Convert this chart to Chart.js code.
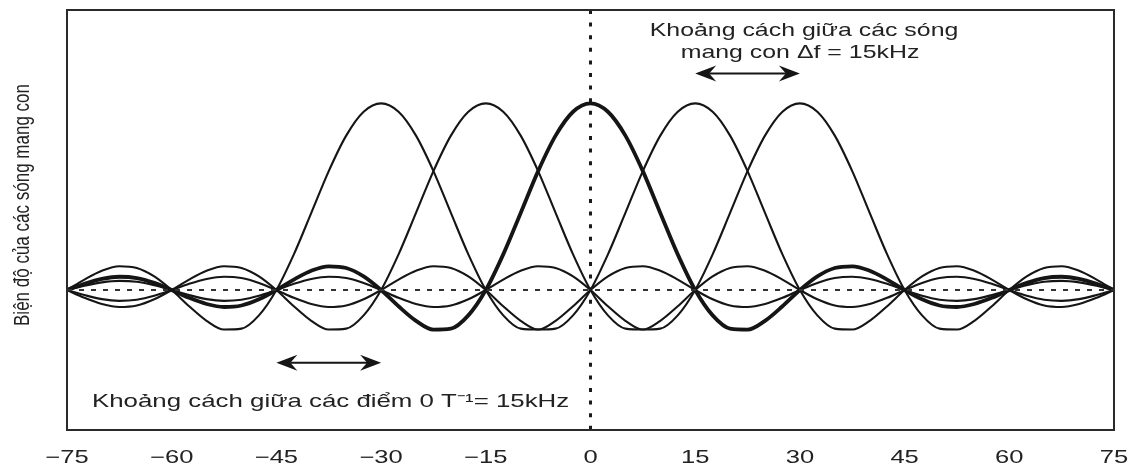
<!DOCTYPE html>
<html>
<head>
<meta charset="utf-8">
<script src="https://cdn.jsdelivr.net/npm/chart.js@4.4.1/dist/chart.umd.min.js"></script>
<style>
  html, body { margin: 0; padding: 0; background: #ffffff; }
  canvas { display: block; }
</style>
</head>
<body>
<canvas id="c" width="1141" height="470"></canvas>
<script>
// ---- data ----
const freqs = [-75,-72.5,-70,-67.5,-65,-62.5,-60,-57.5,-55,-52.5,-50,-47.5,-45,-42.5,-40,-37.5,-35,-32.5,
  -30,-27.5,-25,-22.5,-20,-17.5,-15,-12.5,-10,-7.5,-5,-2.5,0,2.5,5,7.5,10,12.5,15,17.5,20,22.5,25,27.5,
  30,32.5,35,37.5,40,42.5,45,47.5,50,52.5,55,57.5,60,62.5,65,67.5,70,72.5,75];

const tickLabels = ['\u221275','\u221260','\u221245','\u221230','\u221215','0','15','30','45','60','75'];

// sub-carrier centred at -30
const subM30 = [
  0,0.056,0.103,0.127,0.118,0.073, 0,-0.087,-0.165,-0.212,-0.207,-0.136, 0,0.191,0.413,0.637,0.827,0.955,
  1,
  0.955,0.827,0.637,0.413,0.191,0, -0.136,-0.207,-0.212,-0.165,-0.087,0, 0.073,0.118,0.127,0.103,0.056,0,
  -0.050,-0.083,-0.091,-0.075,-0.042,0, 0.038,0.064,0.071,0.059,0.033,0, -0.031,-0.052,-0.058,-0.049,-0.027,0,
  0.026,0.044,0.049,0.041,0.023,0];
// sub-carrier centred at -15
const subM15 = [
  0,-0.042,-0.075,-0.091,-0.083,-0.050, 0,0.056,0.103,0.127,0.118,0.073, 0,-0.087,-0.165,-0.212,-0.207,-0.136,
  0,0.191,0.413,0.637,0.827,0.955,
  1,
  0.955,0.827,0.637,0.413,0.191,0, -0.136,-0.207,-0.212,-0.165,-0.087,0, 0.073,0.118,0.127,0.103,0.056,0,
  -0.050,-0.083,-0.091,-0.075,-0.042,0, 0.038,0.064,0.071,0.059,0.033,0, -0.031,-0.052,-0.058,-0.049,-0.027,0];
// sub-carrier centred at 0 (bold)
const sub0 = [
  0,0.033,0.059,0.071,0.064,0.038, 0,-0.042,-0.075,-0.091,-0.083,-0.050, 0,0.056,0.103,0.127,0.118,0.073,
  0,-0.087,-0.165,-0.212,-0.207,-0.136, 0,0.191,0.413,0.637,0.827,0.955,
  1,
  0.955,0.827,0.637,0.413,0.191,0, -0.136,-0.207,-0.212,-0.165,-0.087,0, 0.073,0.118,0.127,0.103,0.056,0,
  -0.050,-0.083,-0.091,-0.075,-0.042,0, 0.038,0.064,0.071,0.059,0.033,0];
// sub-carrier centred at 15
const subP15 = [
  0,-0.027,-0.049,-0.058,-0.052,-0.031, 0,0.033,0.059,0.071,0.064,0.038, 0,-0.042,-0.075,-0.091,-0.083,-0.050,
  0,0.056,0.103,0.127,0.118,0.073, 0,-0.087,-0.165,-0.212,-0.207,-0.136, 0,0.191,0.413,0.637,0.827,0.955,
  1,
  0.955,0.827,0.637,0.413,0.191,0, -0.136,-0.207,-0.212,-0.165,-0.087,0, 0.073,0.118,0.127,0.103,0.056,0,
  -0.050,-0.083,-0.091,-0.075,-0.042,0];
// sub-carrier centred at 30
const subP30 = [
  0,0.023,0.041,0.049,0.044,0.026, 0,-0.027,-0.049,-0.058,-0.052,-0.031, 0,0.033,0.059,0.071,0.064,0.038,
  0,-0.042,-0.075,-0.091,-0.083,-0.050, 0,0.056,0.103,0.127,0.118,0.073, 0,-0.087,-0.165,-0.212,-0.207,-0.136,
  0,0.191,0.413,0.637,0.827,0.955,
  1,
  0.955,0.827,0.637,0.413,0.191,0, -0.136,-0.207,-0.212,-0.165,-0.087,0, 0.073,0.118,0.127,0.103,0.056,0];

const yTitle = 'Bi\u1ec7n \u0111\u1ed9 c\u1ee7a c\u00e1c s\u00f3ng mang con';
const topText1 = 'Kho\u1ea3ng c\u00e1ch gi\u1eefa c\u00e1c s\u00f3ng';
const topText2 = 'mang con \u0394f = 15kHz';
const bottomText = 'Kho\u1ea3ng c\u00e1ch gi\u1eefa c\u00e1c \u0111i\u1ec3m 0 T\u207b\u00b9= 15kHz';

// ---- drawing ----
const canvas = document.getElementById('c');
const ctx = canvas.getContext('2d');
const nativeFill = ctx.fillText.bind(ctx);
let textStretch = 1.42;   // the reference picture is stretched horizontally
ctx.fillText = function (text, x, y, maxWidth) {
  this.save();
  this.translate(x, y);
  this.scale(textStretch, 1);
  if (maxWidth === undefined || maxWidth === null) nativeFill(text, 0, 0);
  else nativeFill(text, 0, 0, maxWidth / textStretch);
  this.restore();
};

const toPts = arr => arr.map((v, i) => ({ x: freqs[i], y: v }));
const INK = '#151515';

function lineDs(arr, w, order) {
  return {
    data: toPts(arr), borderColor: INK, borderWidth: w, pointRadius: 0,
    fill: false, cubicInterpolationMode: 'monotone', order: order
  };
}

function arrow(c, x0, x1, y) {
  const L = 21, H = 8, N = 14;
  c.save();
  c.strokeStyle = INK; c.fillStyle = INK; c.lineWidth = 2;
  c.beginPath(); c.moveTo(x0 + N, y); c.lineTo(x1 - N, y); c.stroke();
  c.beginPath();
  c.moveTo(x0, y); c.lineTo(x0 + L, y - H); c.lineTo(x0 + N, y); c.lineTo(x0 + L, y + H); c.closePath(); c.fill();
  c.beginPath();
  c.moveTo(x1, y); c.lineTo(x1 - L, y - H); c.lineTo(x1 - N, y); c.lineTo(x1 - L, y + H); c.closePath(); c.fill();
  c.restore();
}

const decor = {
  id: 'decor',
  afterDatasetsDraw(chart) {
    const c = chart.ctx, a = chart.chartArea;
    const xs = chart.scales.x, ys = chart.scales.y;
    const y0 = ys.getPixelForValue(0), x0 = xs.getPixelForValue(0);
    c.save();
    c.strokeStyle = '#333'; c.lineWidth = 2; c.setLineDash([5, 7]);
    c.beginPath(); c.moveTo(a.left, y0); c.lineTo(a.right, y0); c.stroke();
    c.strokeStyle = '#1a1a1a'; c.lineWidth = 3; c.setLineDash([4, 8.6]);
    c.beginPath(); c.moveTo(x0, a.top); c.lineTo(x0, a.bottom); c.stroke();
    c.restore();
  },
  afterDraw(chart) {
    const c = chart.ctx, a = chart.chartArea;
    const xs = chart.scales.x, ys = chart.scales.y;
    c.save();
    c.strokeStyle = '#2a2a2a'; c.lineWidth = 2;
    c.strokeRect(a.left, a.top, a.right - a.left, a.bottom - a.top);
    // arrows
    arrow(c, xs.getPixelForValue(15), xs.getPixelForValue(30), ys.getPixelForValue(1.16));
    arrow(c, xs.getPixelForValue(-45), xs.getPixelForValue(-30), ys.getPixelForValue(-0.39));
    // annotation texts
    c.fillStyle = '#222';
    c.font = '19px "Liberation Sans", Arial, sans-serif';
    c.textBaseline = 'alphabetic';
    textStretch = 1.31;
    c.textAlign = 'center';
    c.fillText(topText1, 804, 36);
    c.fillText(topText2, 800, 58);
    textStretch = 1.36;
    c.textAlign = 'left';
    c.fillText(bottomText, 92, 407);
    // y axis title (rotated, stretched across the glyph height)
    c.font = '17px "Liberation Sans", Arial, sans-serif';
    c.save();
    c.translate(23, 205);
    c.scale(1.31, 1);
    c.rotate(-Math.PI / 2);
    c.textAlign = 'center'; c.textBaseline = 'middle';
    nativeFill(yTitle, 0, 0);
    c.restore();
    textStretch = 1.42;
    c.restore();
  }
};

new Chart(ctx, {
  type: 'line',
  data: {
    datasets: [
      lineDs(subM30, 2.1, 1),
      lineDs(subM15, 2.1, 1),
      lineDs(sub0, 3.8, 0),
      lineDs(subP15, 2.1, 1),
      lineDs(subP30, 2.1, 1)
    ]
  },
  options: {
    responsive: false,
    animation: false,
    events: [],
    layout: { padding: { left: 67, right: 20, top: 10, bottom: 0 } },
    plugins: { legend: { display: false }, tooltip: { enabled: false } },
    scales: {
      x: {
        type: 'linear', min: -75, max: 75,
        grid: { display: false, drawTicks: false },
        border: { display: false },
        ticks: {
          stepSize: 15, autoSkip: false, maxRotation: 0, padding: 17,
          color: '#222',
          font: { family: '"Liberation Sans", Arial, sans-serif', size: 18 },
          callback: (v, i) => tickLabels[i]
        },
        afterFit: s => { s.height = 40; }
      },
      y: { display: false, min: -0.75, max: 1.5 }
    }
  },
  plugins: [decor]
});
</script>
</body>
</html>
